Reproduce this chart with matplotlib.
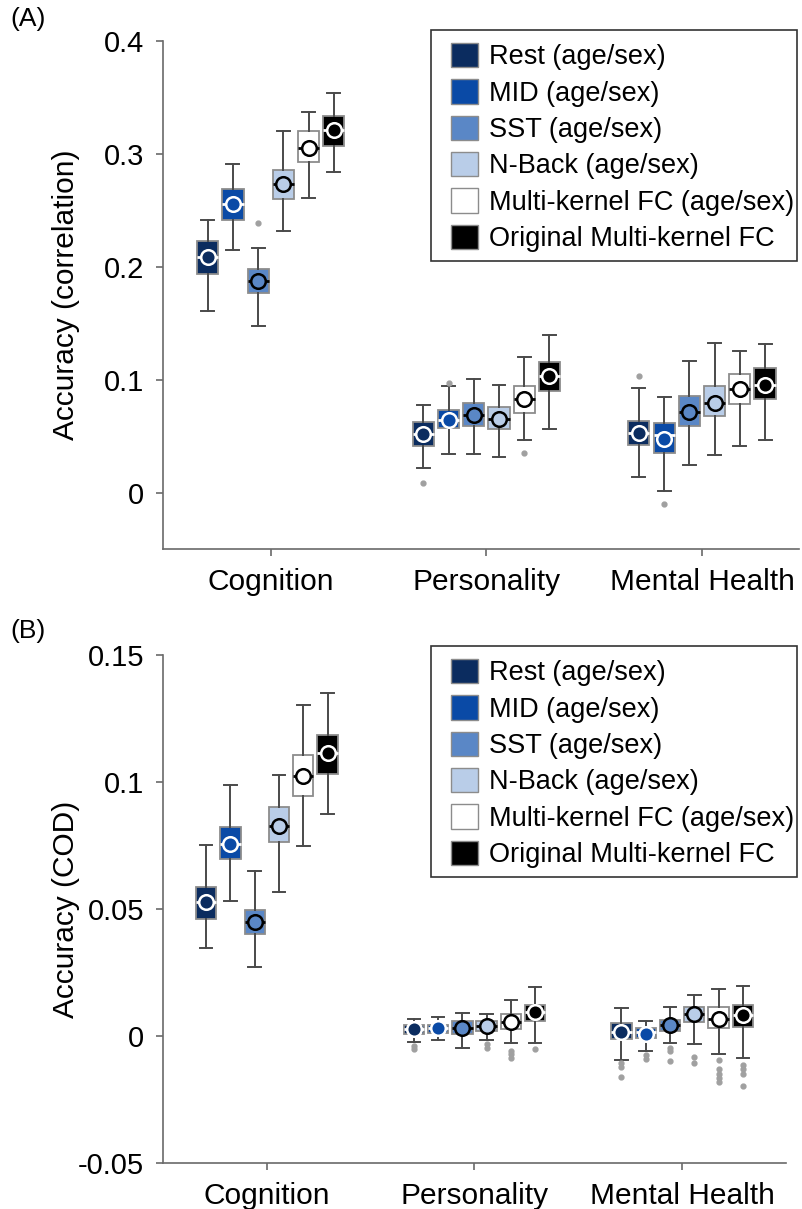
import numpy as np
import matplotlib
matplotlib.use('Agg')
import matplotlib.pyplot as plt
from matplotlib.patches import Patch, Rectangle

plt.rcParams['font.family'] = ['Liberation Sans', 'DejaVu Sans']

domains = ['Cognition', 'Personality', 'Mental Health']
models = ['Rest (age/sex)', 'MID (age/sex)', 'SST (age/sex)', 'N-Back (age/sex)',
          'Multi-kernel FC (age/sex)', 'Original Multi-kernel FC']
fills = ['#0b2c5f', '#0a4aa6', '#5a87c6', '#b9cde8', '#ffffff', '#000000']
marks = ['white', 'white', 'black', 'black', 'black', 'white']

# (A) correlation; rows = models, columns = domains
a_q1 = [[0.194, 0.0413, 0.0425], [0.242, 0.0569, 0.0348], [0.177, 0.059, 0.059],
        [0.2604, 0.0564, 0.0679], [0.2932, 0.0708, 0.079], [0.3071, 0.0903, 0.0832]]
a_q3 = [[0.223, 0.0626, 0.0634], [0.269, 0.0732, 0.0617], [0.198, 0.0796, 0.0858],
        [0.2865, 0.0755, 0.0944], [0.321, 0.0941, 0.1053], [0.3342, 0.1157, 0.1106]]
a_med = [[0.2086, 0.0516, 0.0528], [0.256, 0.0646, 0.0507], [0.188, 0.069, 0.0717],
         [0.2737, 0.0655, 0.0799], [0.306, 0.0832, 0.0918], [0.3219, 0.1033, 0.0953]]
a_mean = [[0.2086, 0.0516, 0.0528], [0.256, 0.0646, 0.0475], [0.188, 0.069, 0.0717],
          [0.2737, 0.0655, 0.0799], [0.306, 0.0832, 0.0918], [0.3219, 0.1033, 0.0953]]
a_lo = [[0.161, 0.0215, 0.0139], [0.215, 0.0345, 0.0018], [0.1475, 0.0342, 0.0242],
        [0.2319, 0.0319, 0.0336], [0.2608, 0.0469, 0.0413], [0.284, 0.056, 0.0466]]
a_hi = [[0.242, 0.0779, 0.0929], [0.291, 0.0944, 0.0847], [0.217, 0.1003, 0.1168],
        [0.3206, 0.0956, 0.133], [0.3378, 0.1206, 0.1254], [0.354, 0.1398, 0.1316]]
a_out = [[[], [0.0088], [0.1035]], [[], [0.0976], [-0.010]], [[0.2387], [], []],
         [[], [], []], [[], [0.0348], []], [[], [], []]]

# (B) coefficient of determination
b_q1 = [[0.0462, 0.0009, -0.0013], [0.0697, 0.0013, -0.0009], [0.040, 0.0008, 0.002],
        [0.0762, 0.0018, 0.0056], [0.0943, 0.0029, 0.0033], [0.1033, 0.0059, 0.0037]]
b_q3 = [[0.0588, 0.0043, 0.005], [0.0821, 0.0043, 0.0033], [0.0498, 0.0058, 0.0064],
        [0.090, 0.0058, 0.0115], [0.1105, 0.0088, 0.0114], [0.1187, 0.0124, 0.0124]]
b_med = [[0.0527, 0.0026, 0.0017], [0.0757, 0.003, 0.0017], [0.0447, 0.0031, 0.0042],
         [0.0827, 0.0039, 0.0085], [0.1022, 0.0055, 0.0068], [0.1114, 0.0093, 0.0082]]
b_mean = [[0.0527, 0.0026, 0.0017], [0.0757, 0.003, 0.0007], [0.0447, 0.0031, 0.0042],
          [0.0827, 0.0039, 0.0085], [0.1022, 0.0055, 0.0068], [0.1114, 0.0093, 0.0082]]
b_lo = [[0.0348, -0.0024, -0.0095], [0.0533, -0.0017, -0.0061], [0.027, -0.0049, -0.0029],
        [0.0567, -0.0017, -0.0033], [0.0747, -0.0026, -0.0069], [0.0873, -0.0029, -0.0087]]
b_hi = [[0.0751, 0.0068, 0.0109], [0.0988, 0.0073, 0.0058], [0.0649, 0.009, 0.0116],
        [0.1029, 0.0088, 0.0161], [0.1304, 0.0143, 0.0184], [0.1352, 0.0194, 0.0198]]
b_out = [[[], [-0.0039, -0.0052], [-0.0108, -0.0122, -0.0161]],
         [[], [], [-0.0074, -0.0091]],
         [[], [], [-0.0046, -0.0061, -0.0098]],
         [[], [-0.0033, -0.0046], [-0.0082, -0.0108]],
         [[], [-0.0059, -0.0072, -0.0085], [-0.0095, -0.0128, -0.015, -0.0166, -0.0183]],
         [[], [-0.0052], [-0.0114, -0.0131, -0.015, -0.0196]]]

groups = np.arange(1, len(domains) + 1)
step = 0.117


def draw_panel(ax, q1, q3, med, mean, lo, hi, out):
    for i in range(len(models)):
        stats = []
        for j in range(len(domains)):
            stats.append(dict(q1=q1[i][j], q3=q3[i][j], med=med[i][j], mean=mean[i][j],
                              whislo=lo[i][j], whishi=hi[i][j], fliers=out[i][j]))
        pos = groups + (i - 2.5) * step
        ax.bxp(stats, positions=pos, widths=0.098, capwidths=0.06, patch_artist=True,
               showmeans=True, manage_ticks=False,
               boxprops=dict(facecolor=fills[i], edgecolor='#8c8c8c', linewidth=1.3),
               whiskerprops=dict(color='#4a4a4a', linewidth=1.4),
               capprops=dict(color='#4a4a4a', linewidth=1.4),
               medianprops=dict(color=marks[i], linewidth=2),
               meanprops=dict(marker='o', markersize=10.5, markerfacecolor=fills[i],
                              markeredgecolor=marks[i], markeredgewidth=1.8),
               flierprops=dict(marker='o', markersize=3.5, markerfacecolor='#a0a0a0',
                               markeredgecolor='#a0a0a0'))
    for s in ['top', 'right']:
        ax.spines[s].set_visible(False)
    for s in ['left', 'bottom']:
        ax.spines[s].set_color('#6a6a6a')
        ax.spines[s].set_linewidth(1.2)
    ax.tick_params(direction='out', length=5, width=1.2, color='#6a6a6a')
    ax.tick_params(axis='y', labelsize=21, pad=8.5)
    ax.set_xticks(groups)
    ax.set_xticklabels(domains)
    ax.tick_params(axis='x', labelsize=21.5, pad=9)


fig = plt.figure(figsize=(8.02, 12.09), dpi=100)
W, H = 802.0, 1209.0
ax_a = fig.add_axes([163 / W, 1 - 549 / H, (799 - 163) / W, (549 - 41.5) / H])
ax_b = fig.add_axes([163 / W, 1 - 1163 / H, (786 - 163) / W, (1163 - 655) / H])

draw_panel(ax_a, a_q1, a_q3, a_med, a_mean, a_lo, a_hi, a_out)
ax_a.set_xlim(0.5, 3.45)
ax_a.set_ylim(-0.05, 0.4)
ax_a.set_yticks([0, 0.1, 0.2, 0.3, 0.4])
ax_a.set_yticklabels(['0', '0.1', '0.2', '0.3', '0.4'])
ax_a.set_ylabel('Accuracy (correlation)', fontsize=21.5)
ax_a.yaxis.set_label_coords((80 - 163) / 636, 0.5)

draw_panel(ax_b, b_q1, b_q3, b_med, b_mean, b_lo, b_hi, b_out)
ax_b.set_xlim(0.5, 3.5)
ax_b.set_ylim(-0.05, 0.15)
ax_b.set_yticks([-0.05, 0, 0.05, 0.1, 0.15])
ax_b.set_yticklabels(['-0.05', '0', '0.05', '0.1', '0.15'])
ax_b.set_ylabel('Accuracy (COD)', fontsize=21.5)
ax_b.yaxis.set_label_coords((80 - 163) / 623, 0.5)

# legends: entries placed by matplotlib, frame drawn as a plain rectangle
handles = [Patch(facecolor=c, edgecolor='#8c8c8c', linewidth=1) for c in fills]
for shift in [0, 616]:
    fig.legend(handles, models, loc='upper left',
               bbox_to_anchor=(451 / W, 1 - (43 + shift) / H), fontsize=19.5,
               frameon=False, handlelength=1.0, handleheight=1.0,
               labelspacing=0.33, handletextpad=0.4, borderpad=0, borderaxespad=0)
    fig.add_artist(Rectangle((431 / W, 1 - (261 + shift) / H), 366 / W, 231 / H,
                             transform=fig.transFigure, fill=False,
                             edgecolor='#333333', linewidth=1.2))

fig.text(10 / W, 1 - 7 / H, '(A)', fontsize=19, va='top', ha='left')
fig.text(10 / W, 1 - 619 / H, '(B)', fontsize=19, va='top', ha='left')

fig.savefig('out.png', dpi=100)
